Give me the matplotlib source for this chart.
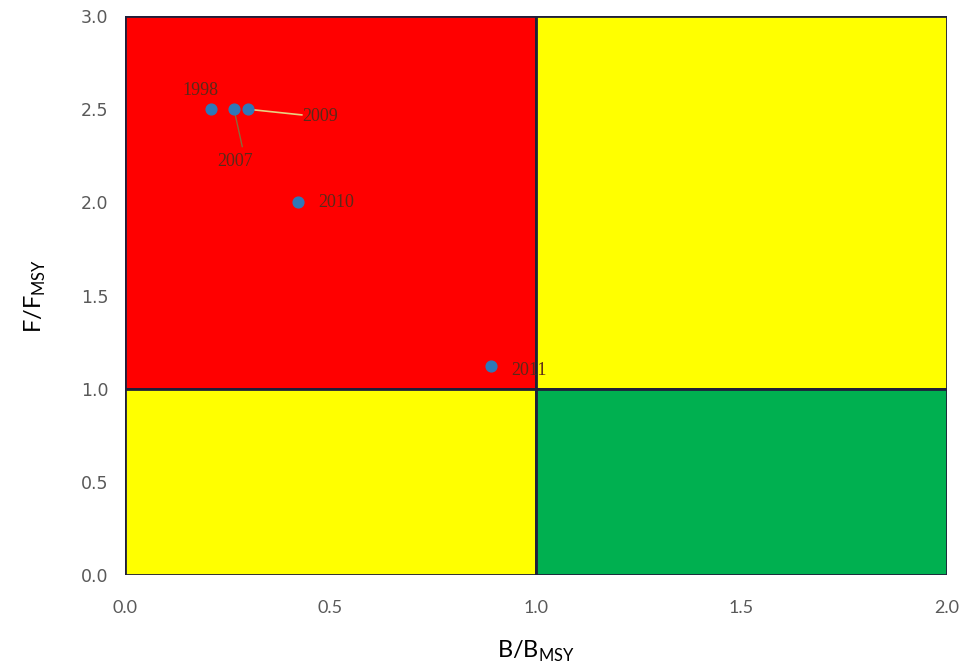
import matplotlib
matplotlib.use("Agg")
import matplotlib.pyplot as plt
from matplotlib.patches import Rectangle

# Stock status by year (biomass and fishing mortality relative to MSY levels)
years = ["1998", "2007", "2009", "2010", "2011"]
b_ratio = [0.21, 0.265, 0.30, 0.42, 0.89]
f_ratio = [2.50, 2.50, 2.50, 2.00, 1.12]

x_ticks = [0.0, 0.5, 1.0, 1.5, 2.0]
y_ticks = [0.0, 0.5, 1.0, 1.5, 2.0, 2.5, 3.0]

fig = plt.figure(figsize=(9.63, 6.72), dpi=100)
ax = fig.add_axes([0.13, 0.144, 0.853, 0.832])
ax.set_xlim(0, 2.0)
ax.set_ylim(0, 3.0)

edge = "#1f1f3a"
quadrants = [
    (0.0, 1.0, 1.0, 2.0, "#ff0000"),
    (1.0, 1.0, 1.0, 2.0, "#ffff00"),
    (0.0, 0.0, 1.0, 1.0, "#ffff00"),
    (1.0, 0.0, 1.0, 1.0, "#00b050"),
]
for x0, y0, w, h, c in quadrants:
    ax.add_patch(Rectangle((x0, y0), w, h, facecolor=c, edgecolor=edge,
                           linewidth=2.0, zorder=1))

ax.scatter(b_ratio, f_ratio, s=60, color="#2f78b8", zorder=4)

lab_kw = dict(fontsize=13, family="Liberation Serif", color="#5a2a1a", zorder=5)
offsets = [(-0.07, 0.10), (-0.04, -0.28), (0.13, -0.04), (0.05, 0.0), (0.05, -0.02)]
for i, (yr, bx, fy) in enumerate(zip(years, b_ratio, f_ratio)):
    dx, dy = offsets[i]
    ax.text(bx + dx, fy + dy, yr, ha="left", va="center", **lab_kw)

# leader lines for crowded labels
ax.plot([b_ratio[1], b_ratio[1] + 0.02], [f_ratio[1], f_ratio[1] - 0.2],
        color="#8a6a3a", lw=1.0, zorder=3)
ax.plot([b_ratio[2], b_ratio[2] + 0.13], [f_ratio[2], f_ratio[2] - 0.03],
        color="#e8d080", lw=1.2, zorder=3)

ax.set_xticks(x_ticks)
ax.set_xticklabels([f"{v:.1f}" for v in x_ticks], family="Lato", fontsize=13, color="#595959")
ax.set_yticks(y_ticks)
ax.set_yticklabels([f"{v:.1f}" for v in y_ticks], family="DejaVu Sans", fontsize=12.5, color="#595959")
ax.tick_params(axis="x", length=0, pad=18)
ax.tick_params(axis="y", length=0, pad=12)
for s in ax.spines.values():
    s.set_visible(False)

ax.set_xlabel(r"B/B$_{\mathregular{MSY}}$", fontsize=17, family="Lato", labelpad=16)
ax.set_ylabel(r"F/F$_{\mathregular{MSY}}$", fontsize=17, family="Lato", labelpad=24)

fig.savefig("out.png", dpi=100)
